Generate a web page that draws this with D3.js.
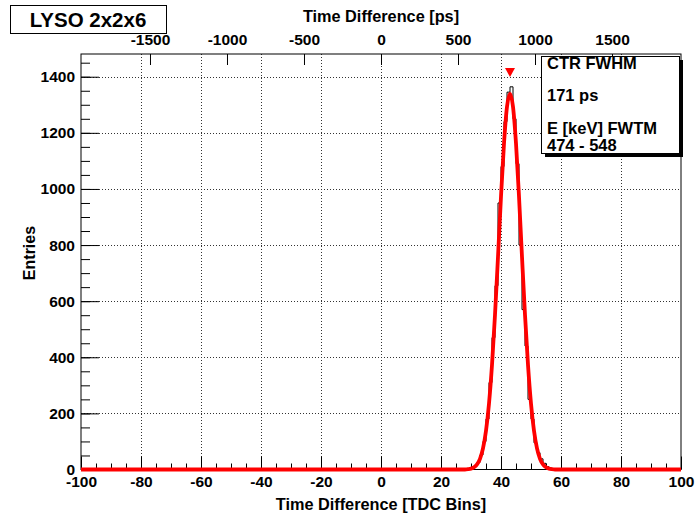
<!DOCTYPE html>
<html>
<head>
<meta charset="utf-8">
<script src="https://cdn.jsdelivr.net/npm/d3@7"></script>
<style>
  body { margin: 0; background: #fff; }
  svg text { font-family: "Liberation Sans", Arial, Helvetica, sans-serif; font-weight: bold; fill: #000; }
</style>
</head>
<body>
<svg width="695" height="518"></svg>
<script>
// histogram bins (lower edge, width 1 TDC bin) and counts, everything else is empty
const histLow = [28, 29, 30, 31, 32, 33, 34, 35, 36, 37, 38, 39, 40, 41, 42, 43,
                 44, 45, 46, 47, 48, 49, 50, 51, 52, 53, 54, 55, 56, 57];
const histCounts = [1, 2, 5, 12, 25, 52, 100, 180, 310, 470, 655, 950, 1080, 1240, 1345, 1364,
                    1250, 1090, 800, 570, 440, 250, 180, 95, 60, 38, 22, 10, 5, 2];

// gaussian fit curve
const fitX = [-100, 28, 29, 30, 31, 32, 33, 34, 35, 36, 37, 38, 39, 40, 41, 42, 43,
              44, 45, 46, 47, 48, 49, 50, 51, 52, 53, 54, 55, 56, 57, 58, 100];
const fitY = [0, 0, 1, 3, 8, 18, 38, 75, 138, 235, 373, 551, 758, 973, 1162, 1293, 1340,
              1293, 1162, 973, 758, 551, 373, 235, 138, 75, 38, 18, 8, 3, 1, 0, 0];

const peakMarker = { x: 43, y: 1415 };

const binTicks = [-100, -80, -60, -40, -20, 0, 20, 40, 60, 80, 100];
const psTicks = [-1500, -1000, -500, 0, 500, 1000, 1500];
const entryTicks = [0, 200, 400, 600, 800, 1000, 1200, 1400];
const statsLines = ["CTR FWHM", "171 ps", "E [keV] FWTM", "474 - 548"];
const title = "LYSO 2x2x6";

const svg = d3.select("svg");
const plotL = 81, plotR = 681, plotT = 54, plotB = 469.5;

const x = d3.scaleLinear().domain([-100, 100]).range([plotL, plotR]);
const xps = d3.scaleLinear().domain([-1948, 1948]).range([plotL, plotR]);
const y = d3.scaleLinear().domain([0, 1481]).range([plotB, plotT]);
const plain = d => String(d);

svg.append("rect").attr("width", 695).attr("height", 518).attr("fill", "#fff");

// grid
const grid = svg.append("g").attr("stroke", "#333").attr("stroke-dasharray", "1,2").attr("stroke-width", 1);
grid.selectAll(".gx").data(binTicks.slice(1, -1)).enter().append("line")
    .attr("x1", d => Math.round(x(d)) + 0.5).attr("x2", d => Math.round(x(d)) + 0.5)
    .attr("y1", plotT).attr("y2", plotB);
grid.selectAll(".gy").data(entryTicks.slice(1)).enter().append("line")
    .attr("x1", plotL).attr("x2", plotR)
    .attr("y1", d => Math.round(y(d)) + 0.5).attr("y2", d => Math.round(y(d)) + 0.5);

// minor ticks
svg.append("g").attr("transform", `translate(0,${plotB})`)
    .call(d3.axisBottom(x).tickValues(d3.range(-95, 100, 5)).tickSize(-6).tickFormat(""))
    .call(g => g.select(".domain").remove());
svg.append("g").attr("transform", `translate(${plotL},0)`)
    .call(d3.axisLeft(y).tickValues(d3.range(50, 1481, 50)).tickSize(-9).tickFormat(""))
    .call(g => g.select(".domain").remove());

// major axes
const fontSize = "15.5px";
svg.append("g").attr("transform", `translate(0,${plotB})`)
    .call(d3.axisBottom(x).tickValues(binTicks).tickSize(-13).tickPadding(6.5).tickFormat(plain))
    .call(g => g.select(".domain").remove())
    .call(g => g.selectAll("text").style("font-size", fontSize));
svg.append("g").attr("transform", `translate(${plotL},0)`)
    .call(d3.axisLeft(y).tickValues(entryTicks).tickSize(-18).tickPadding(6).tickFormat(plain))
    .call(g => g.select(".domain").remove())
    .call(g => g.selectAll("text").style("font-size", fontSize));
svg.append("g").attr("transform", `translate(0,${plotT})`)
    .call(d3.axisTop(xps).tickValues(psTicks).tickSize(-11).tickPadding(9).tickFormat(plain))
    .call(g => g.select(".domain").remove())
    .call(g => g.selectAll("text").style("font-size", fontSize));
svg.selectAll(".tick line").attr("stroke", "#000");

// frame
svg.append("rect").attr("x", plotL).attr("y", plotT).attr("width", plotR - plotL).attr("height", plotB - plotT)
    .attr("fill", "none").attr("stroke", "#000").attr("stroke-width", 1);

// histogram outline
const counts = new Map(histLow.map((b, i) => [b, histCounts[i]]));
const steps = d3.range(-100, 101).map(b => ({ b: b, c: b < 100 ? (counts.get(b) || 0) : 0 }));
svg.append("path")
    .datum(steps)
    .attr("fill", "none").attr("stroke", "#000").attr("stroke-width", 1)
    .attr("d", d3.line().x(d => x(d.b)).y(d => y(d.c)).curve(d3.curveStepAfter));

// fit
svg.append("path")
    .datum(fitX.map((v, i) => [v, fitY[i]]))
    .attr("fill", "none").attr("stroke", "#f00").attr("stroke-width", 3.8)
    .attr("d", d3.line().x(d => x(d[0])).y(d => y(d[1])).curve(d3.curveMonotoneX));

// peak marker
const px = x(peakMarker.x), py = y(peakMarker.y);
svg.append("path")
    .attr("d", `M${px - 5},${py - 4.5}L${px + 5},${py - 4.5}L${px},${py + 4.5}Z`)
    .attr("fill", "#f00");

// axis titles
svg.append("text").attr("x", (plotL + plotR) / 2).attr("y", 510).attr("text-anchor", "middle")
    .style("font-size", "16.3px").text("Time Difference [TDC Bins]");
svg.append("text").attr("x", (plotL + plotR) / 2).attr("y", 22).attr("text-anchor", "middle")
    .style("font-size", "16.3px").text("Time Difference [ps]");
svg.append("text").attr("transform", "translate(35,253) rotate(-90)").attr("text-anchor", "middle")
    .style("font-size", "16px").text("Entries");

// stats box
svg.append("rect").attr("x", 545).attr("y", 60).attr("width", 138).attr("height", 97).attr("fill", "#000");
svg.append("rect").attr("x", 541.5).attr("y", 56.5).attr("width", 138).attr("height", 97)
    .attr("fill", "#fff").attr("stroke", "#000");
const statsY = [68.5, 100.5, 133.5, 150.5];
svg.selectAll(".stat").data(statsLines).enter().append("text")
    .attr("x", 547).attr("y", (d, i) => statsY[i])
    .style("font-size", "16.5px").text(d => d);

// title box
svg.append("rect").attr("x", 10.5).attr("y", 5.5).attr("width", 156).attr("height", 28)
    .attr("fill", "#fff").attr("stroke", "#000");
svg.append("text").attr("x", 88).attr("y", 26.5).attr("text-anchor", "middle")
    .style("font-size", "20.5px").text(title);
</script>
</body>
</html>
